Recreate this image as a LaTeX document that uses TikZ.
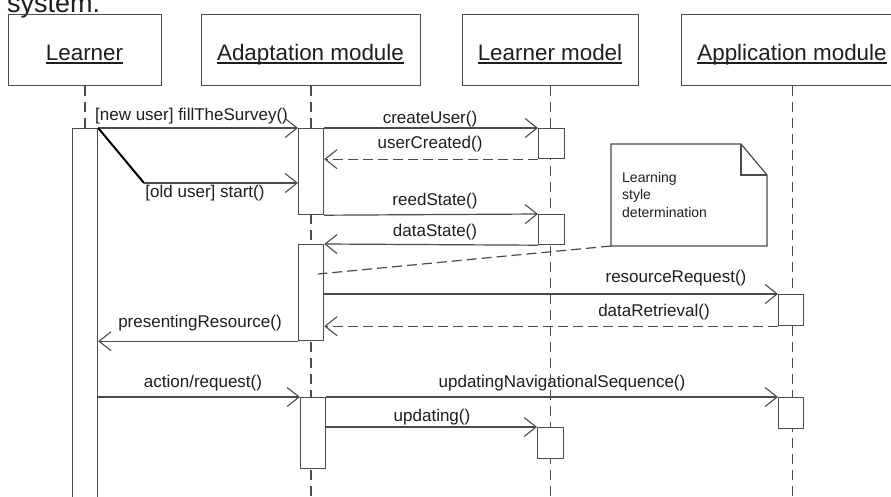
\documentclass[tikz,border=0pt]{standalone}
\usepackage{fontspec}
\setmainfont{Liberation Sans}
\usetikzlibrary{arrows.meta}
\definecolor{ln}{RGB}{75,75,75}
\definecolor{tx}{RGB}{30,30,30}
\begin{document}
\begin{tikzpicture}[x=1pt,y=-1pt,
  hbox/.style={draw=ln, line width=1.2pt, inner sep=0pt, anchor=north west, minimum height=71pt},
  htext/.style={anchor=base, inner sep=0pt, text=tx, font=\fontsize{22.4}{26}\selectfont},
  ul/.style={draw=tx, line width=1.3pt},
  life/.style={draw=ln, line width=1.3pt, dash pattern=on 10pt off 6pt},
  act/.style={draw=ln, fill=white, line width=1.2pt, inner sep=0pt, anchor=north west, minimum width=25pt},
  msg/.style={draw=ln, line width=1.2pt, -{Straight Barb[length=12pt,width=19pt,line width=1.1pt]}},
  ret/.style={msg, dash pattern=on 10pt off 5pt},
  branch/.style={draw=black, line width=2pt},
  lbl/.style={anchor=base, inner sep=0pt, text=tx, font=\fontsize{17}{20}\selectfont},
  notebox/.style={draw=ln, line width=1.2pt, fill=white},
  notelink/.style={draw=ln, line width=1.2pt, dash pattern=on 10pt off 5pt},
  notetext/.style={anchor=base west, inner sep=0pt, align=left, text=tx, font=\fontsize{14}{17.3}\selectfont}
]
\useasboundingbox (0,0) rectangle (891,496);
\clip (0,0) rectangle (891,496);
\fill[white] (0,0) rectangle (891,496);

% caption fragment
\node[anchor=base west, inner sep=0pt, text=tx, font=\fontsize{27}{30}\selectfont] (sys) at (7,12) {system.};

% header boxes
\node[hbox, minimum width=153pt] (hL) at (8,14) {};
\node[hbox, minimum width=219pt] (hA) at (201,14) {};
\node[hbox, minimum width=176pt] (hM) at (462,14) {};
\node[hbox, minimum width=222pt] (hP) at (681,14) {};

\node[htext] (tL) at (84.5,60) {Learner};
\node[htext] (tA) at (310.5,60) {Adaptation module};
\node[htext] (tM) at (550,60) {Learner model};
\node[htext] (tP) at (792,60) {Application module};
\foreach \t in {tL,tA,tM,tP}
  \draw[ul] ([yshift=-3pt]\t.base west) -- ([yshift=-3pt]\t.base east);

% message labels (drawn before lifelines)
\node[lbl] (l1) at (191.5,120) {[new user] fillTheSurvey()};
\node[lbl] (l2) at (205,197) {[old user] start()};
\node[lbl] (l3) at (430,123) {createUser()};
\node[lbl] (l4) at (430,148) {userCreated()};
\node[lbl] (l5) at (435,205) {reedState()};
\node[lbl] (l6) at (435,236) {dataState()};
\node[lbl] (l7) at (676,282) {resourceRequest()};
\node[lbl] (l8) at (654,316) {dataRetrieval()};
\node[lbl] (l9) at (200,327) {presentingResource()};
\node[lbl] (l10) at (203,387) {action/request()};
\node[lbl] (l11) at (562,387) {updatingNavigationalSequence()};
\node[lbl] (l12) at (432,421) {updating()};

% lifelines
\coordinate (bot) at (0,510);
\draw[life] (hL.south) -- (hL.south |- bot);
\draw[life] (hA.south) -- (hA.south |- bot);
\draw[life] (hM.south) -- (hM.south |- bot);
\draw[life] (hP.south) -- (hP.south |- bot);

% activation boxes
\node[act, minimum height=400pt] (L1) at (72,128) {};
\node[act, minimum height=86pt] (A1) at (298,128) {};
\node[act, minimum width=26pt, minimum height=30pt] (M1) at (538,128) {};
\node[act, minimum width=26pt, minimum height=30pt] (M2) at (538,214) {};
\node[act, minimum height=96pt] (A2) at (298,244) {};
\node[act, minimum height=31pt] (P1) at (778,294) {};
\node[act, minimum height=71pt] (A3) at (300,397) {};
\node[act, minimum height=31pt] (P2) at (778,397) {};
\node[act, minimum width=26pt, minimum height=31pt] (M3) at (537,427) {};

% note
\path[notebox] (611,144) -- (741,144) -- (767,175) -- (767,246) -- (611,246) -- cycle;
\draw[ln, line width=1.2pt] (741,144) -- (741,175) -- (767,175);
\coordinate (nSW) at (611,246);
\node[notetext] (nt) at (622,217) {Learning\\style\\determination};
\coordinate (nc) at (318,274);
\draw[notelink] (nSW) -- (nc);

% messages
\draw[msg] (L1.north east) -- (A1.north west);
\coordinate (br) at (144,183);
\draw[branch] (L1.north east) -- (br);
\draw[msg] (br) -- (br -| A1.west);
\draw[msg] (A1.north east) -- (M1.north west);
\draw[ret] (M1.south west) -- (M1.south west -| A1.east);
\draw[msg] (A1.south east) -- (M2.north west);
\draw[msg] (M2.south west) -- (A2.north east);
\draw[msg] (A2.east |- P1.north) -- (P1.north west);
\draw[ret] (P1.south west) -- (P1.south west -| A2.east);
\draw[msg] (A2.south west) -- (A2.south west -| L1.east);
\draw[msg] (L1.east |- A3.north) -- (A3.north west);
\draw[msg] (A3.north east) -- (P2.north west);
\draw[msg] (A3.east |- M3.north) -- (M3.north west);
\end{tikzpicture}
\end{document}
